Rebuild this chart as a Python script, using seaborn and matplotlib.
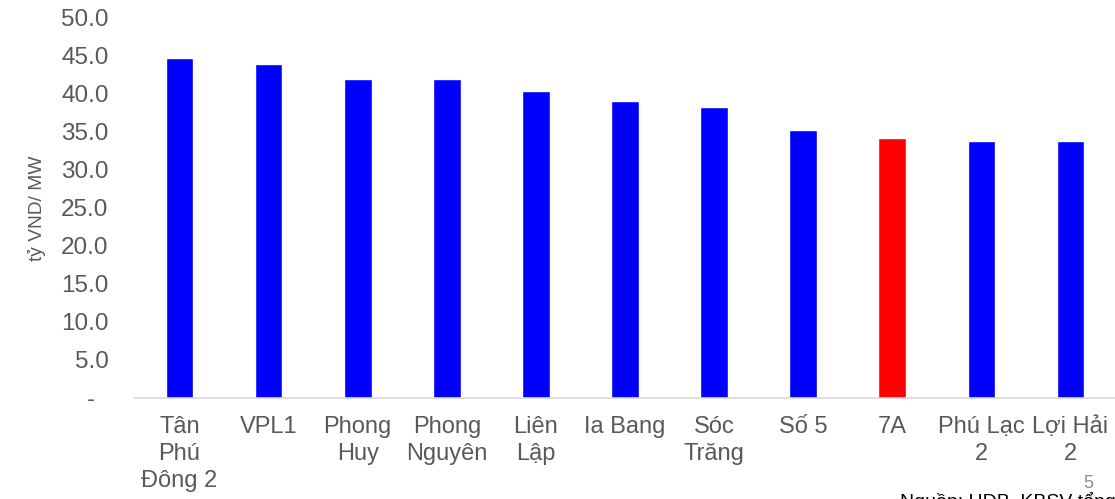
import matplotlib
matplotlib.use("Agg")
import numpy as np
import pandas as pd
import seaborn as sns
from matplotlib import pyplot as plt
from matplotlib.ticker import FuncFormatter

# data
projects = ["Tân\nPhú\nĐông 2", "VPL1", "Phong\nHuy", "Phong\nNguyên", "Liên\nLập",
            "Ia Bang", "Sóc\nTrăng", "Số 5", "7A", "Phú Lạc\n2", "Lợi Hải\n2"]
cost_per_mw = [44.8, 44.0, 42.0, 42.0, 40.4, 39.1, 38.25, 35.3, 34.2, 33.8, 33.8]
highlight = "7A"

df = pd.DataFrame({"project": projects, "cost": cost_per_mw})
colors = {p: ("#ff0000" if p == highlight else "#0000ff") for p in projects}

sns.set_style("white")
plt.rcParams["font.family"] = ["Liberation Sans", "DejaVu Sans"]

grey = "#595959"
fig = plt.figure(figsize=(11.15, 4.99), dpi=100)
ax = fig.add_axes([135 / 1115, 101 / 499, 980 / 1115, 380 / 499])

sns.barplot(data=df, x="project", y="cost", hue="project", palette=colors,
            legend=False, width=0.31, saturation=1, ax=ax)

ax.set_ylim(0, 50)
ax.set_yticks(np.arange(0, 50.1, 5))
ax.yaxis.set_major_formatter(FuncFormatter(lambda v, p: "-  " if v == 0 else f"{v:.1f}"))
ax.set_xlabel("")
ax.set_ylabel("tỷ VND/ MW", fontsize=13.8, color=grey, labelpad=11)
ax.tick_params(axis="y", length=0, pad=19, labelsize=17.5, labelcolor=grey)
ax.tick_params(axis="x", length=0, pad=13, labelsize=17, labelcolor=grey)
for t in ax.get_xticklabels():
    t.set_linespacing(1.28)

sns.despine(ax=ax, left=True)
ax.spines["bottom"].set_color("#d9d9d9")
ax.spines["bottom"].set_linewidth(1.2)

fig.text(1088 / 1115, 1 - 484 / 499, "5", fontsize=13, color="#8c8c8c",
         ha="center", va="center")
fig.text(900 / 1115, 1 - 492 / 499, "Nguồn: HDB, KBSV tổng hợp", fontsize=14,
         color="black", ha="left", va="top")

fig.savefig("out.png", dpi=100)
